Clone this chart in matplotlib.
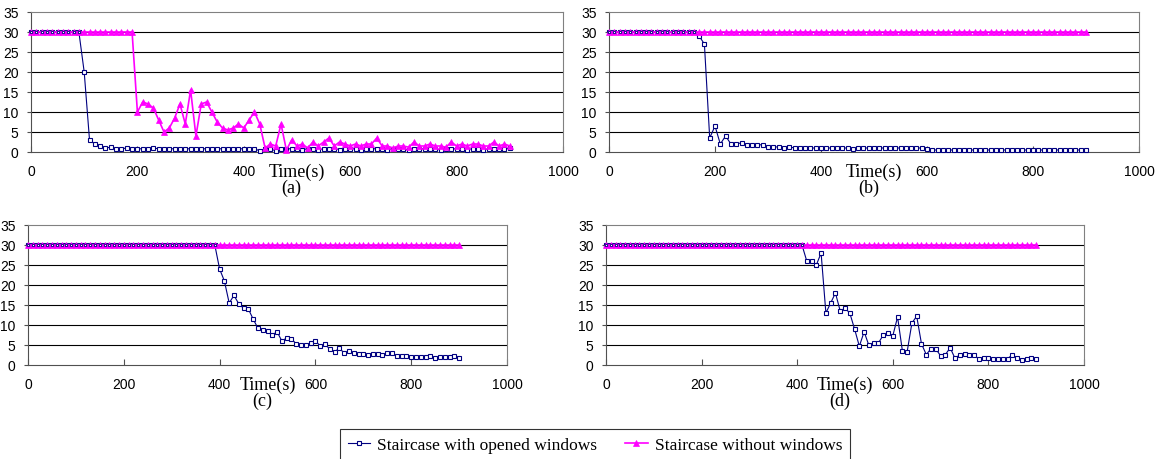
import numpy as np
import matplotlib
matplotlib.use('Agg')
import matplotlib.pyplot as plt
import matplotlib.transforms as mtransforms
from matplotlib.lines import Line2D

plt.rcParams.update({'font.family': 'Liberation Sans', 'font.size': 10,
                     'axes.linewidth': 0.8})

# sample times (s), one reading every 10 s
t = np.arange(0, 901, 10)

# (a)
open_a = ([30]*10 +
          [20, 3, 2, 1.5, 1, 1.2, 0.8, 0.8, 1, 0.8] +
          [0.8, 0.8, 0.8, 1, 0.8, 0.8, 0.8, 0.8, 0.8, 0.8] +
          [0.8]*10 +
          [0.8, 0.8, 0.8, 0.3, 0.8, 0.8, 0.3, 0.8, 0.8, 0.8] +
          [0.8, 0.6, 0.8, 0.8, 0.5, 0.8, 0.8, 0.8, 0.6, 0.8,
           0.8, 0.8, 0.5, 0.8, 0.8, 0.8, 0.8, 0.6, 0.8, 0.8,
           0.8, 0.5, 0.8, 0.8, 0.8, 0.8, 0.8, 0.5, 0.8, 0.8,
           0.8, 0.8, 0.6, 0.8, 0.8, 0.5, 0.8, 0.8, 0.8, 0.8, 1])
closed_a = ([30]*20 +
            [10, 12.5, 12, 11, 8, 5, 6, 8.5, 12, 7] +
            [15.5, 4, 12, 12.5, 10, 7.5, 6, 5.5, 6, 7] +
            [6, 8, 10, 7, 1, 2, 1.5, 7, 0.5, 3] +
            [1.5, 2, 1, 2.5, 1.5, 2.5, 3.5, 1.5, 2.5, 2,
             1.5, 2, 1.5, 2, 2, 3.5, 1.5, 1.5, 1, 1.5,
             1.5, 1.2, 2.5, 1.5, 1.5, 2, 1.5, 1.5, 1.2, 2.5,
             1.5, 2, 1.5, 2, 2, 1.5, 1.5, 2.5, 1.5, 2, 1.5])

# (b)
open_b = ([30]*17 +
          [29, 27, 3.5, 6.5, 2, 4, 2, 2, 2.3, 1.8, 1.8, 1.8, 1.8,
           1.3, 1.2, 1.3, 1.0, 1.3] +
          [1.0]*11 + [0.7] + [1.0]*13 +
          [0.8] +
          [0.5]*30)
closed_b = [30]*91

# (c)
open_c = ([30]*40 +
          [24, 21, 15.5, 17.4, 15.3, 14.2, 14, 11.5, 9.2, 8.75,
           8.5, 7.5, 8.3, 6, 6.75, 6.5, 5.3, 5.1, 5.1, 5.5,
           6, 4.8, 5.2, 4, 3.3, 4.2, 3, 3.4, 3, 2.8,
           2.7, 2.6, 2.8, 2.8, 2.6, 2.9, 2.9, 2.2, 2.2, 2.3,
           2, 2, 2, 2, 2.2, 1.8, 2, 2.1, 1.9, 2.2, 1.8])
closed_c = [30]*91

# (d)
open_d = ([30]*42 +
          [26, 26, 25, 28, 13, 15.5, 18, 13.5, 14.2, 13,
           9, 4.7, 8.3, 4.9, 5.6, 5.5, 7.5, 8, 7.3, 12,
           3.6, 3.3, 10.5, 12.2, 5.3, 2.6, 4.1, 4, 2.3, 2.6,
           4.3, 1.7, 2.5, 2.7, 2.6, 2.5, 1.5, 1.8, 1.7, 1.5,
           1.5, 1.5, 1.6, 2.5, 1.8, 1.2, 1.5, 1.8, 1.5])
closed_d = [30]*91

panels = [('(a)', open_a, closed_a), ('(b)', open_b, closed_b),
          ('(c)', open_c, closed_c), ('(d)', open_d, closed_d)]
labels = ['Staircase with opened windows', 'Staircase without windows']

W, H = 1165, 460
# axes boxes in pixels: left, top, right, bottom
boxes = [(31, 13, 563, 153), (609, 13, 1139, 153),
         (28, 226, 507, 366), (606, 226, 1084, 366)]

BLUE = '#000080'
PINK = '#FF00FF'
SERIF = 'Liberation Serif'

blue_style = dict(color=BLUE, lw=0.8, marker='s', ms=3.0,
                  mfc='white', mec=BLUE, mew=0.8)
pink_style = dict(color=PINK, lw=1.2, marker='^', ms=5.0,
                  mfc=PINK, mec=PINK, mew=0.5)

fig = plt.figure(figsize=(W/100, H/100), dpi=100)
for (tag, op, cl), (l, tp, r, b) in zip(panels, boxes):
    ax = fig.add_axes([l/W, 1 - b/H, (r - l)/W, (b - tp)/H])
    ax.plot(t, op, zorder=3, clip_on=False, **blue_style)
    ax.plot(t, cl, zorder=4, clip_on=False, **pink_style)
    # where both series sit at 30 the blue marks show through the pink band
    both = [(x, v) for x, v, c in zip(t, op, cl) if v == c]
    if both:
        bx, bv = zip(*both)
        ax.plot(bx, bv, ls='none', marker='s', ms=2.0, mfc='white', mec=BLUE,
                mew=0.6, zorder=5, clip_on=False)
    ax.set_xlim(0, 1000); ax.set_ylim(0, 35)
    ax.set_xticks(range(0, 1001, 200)); ax.set_yticks(range(0, 36, 5))
    for y in range(5, 31, 5):
        ax.axhline(y, color='black', lw=0.8, zorder=0)
    for s in ['top', 'right']:
        ax.spines[s].set_color('#808080')
    for s in ['left', 'bottom']:
        ax.spines[s].set_color('#505050')
    ax.tick_params(axis='x', direction='in', length=4, pad=9, color='#505050')
    ax.tick_params(axis='y', direction='out', length=3, pad=6, color='#505050')
    trans = mtransforms.blended_transform_factory(ax.transData, ax.transAxes)
    ax.text(500, -19/140, 'Time(s)', transform=trans, ha='center', va='center',
            fontsize=13, family=SERIF)
    ax.text(490, -35/140, tag, transform=trans, ha='center', va='center',
            fontsize=13, family=SERIF)

handles = [Line2D([], [], **blue_style), Line2D([], [], **pink_style)]
leg = fig.legend(handles, labels, loc='upper center', ncol=2,
                 bbox_to_anchor=(595/W, 1 - 430/H), borderaxespad=0,
                 frameon=True, fancybox=False,
                 prop={'family': SERIF, 'size': 12.5}, handlelength=1.3,
                 handletextpad=0.4, columnspacing=1.6, borderpad=0.45)
leg.get_frame().set_edgecolor('black')
leg.get_frame().set_linewidth(0.8)

fig.savefig('out.png', dpi=100)
print("Saved out.png")
